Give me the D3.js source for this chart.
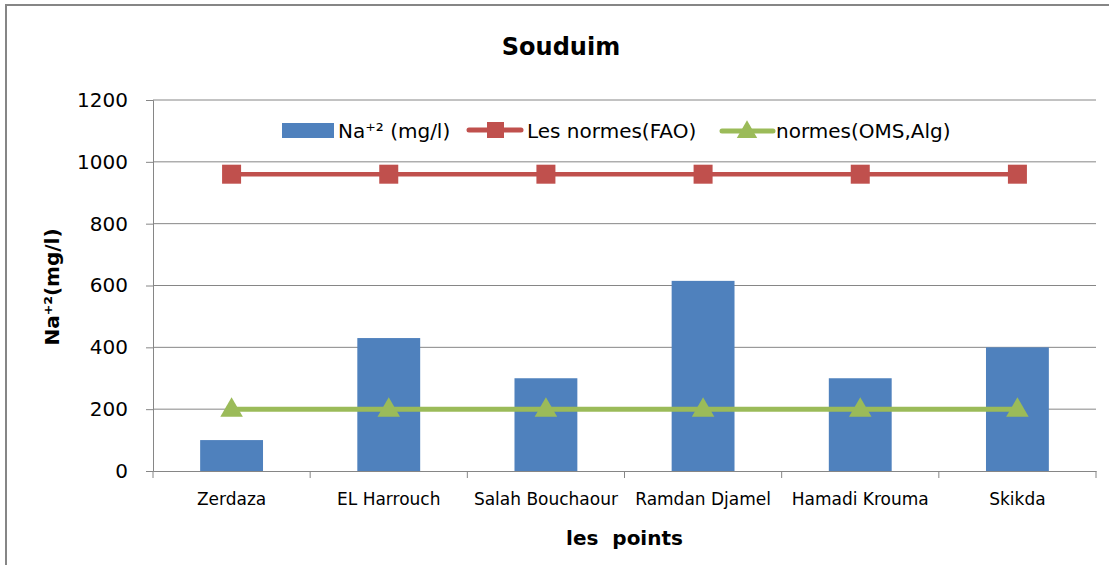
<!DOCTYPE html>
<html lang="en">
<head>
  <meta charset="UTF-8">
  <title>Souduim</title>
  <script src="https://d3js.org/d3.v7.min.js"></script>
</head>
<style>
  body{
    margin:0;
    background:white;
    font-family: "DejaVu Sans", Arial, sans-serif;
  }
</style>
<body>
  <div id="svg_area"></div>
</body>
<script>
// chart data
var points = ["Zerdaza", "EL Harrouch", "Salah Bouchaour", "Ramdan Djamel", "Hamadi Krouma", "Skikda"];
var sodium = [100, 430, 300, 615, 300, 400];
var normeFAO = [960, 960, 960, 960, 960, 960];
var normeOMS = [200, 200, 200, 200, 200, 200];
var yTicks = [0, 200, 400, 600, 800, 1000, 1200];

var width = 1109;
var height = 565;
// plot area edges
var plotLeft = 153, plotRight = 1096, plotTop = 100, plotBottom = 471;

var svg = d3.select("#svg_area").append("svg")
  .attr("width", width)
  .attr("height", height)
  .attr("font-family", "'DejaVu Sans', sans-serif");

// outer border (only top and left visible)
svg.append("path")
  .attr("d", "M6," + height + " V5 H" + width)
  .attr("fill", "none")
  .attr("stroke", "#868686")
  .attr("stroke-width", 2);

// scales
var yScale = d3.scaleLinear().domain([0, 1200]).range([plotBottom, plotTop]);
var xScale = d3.scaleBand().domain(points).range([plotLeft, plotRight]).paddingInner(0).paddingOuter(0);
var barWidth = xScale.bandwidth() / 2.5;

// gridlines
svg.append("g").selectAll("line")
  .data(yTicks.filter(function(d){ return d > 0; }))
  .enter().append("line")
    .attr("x1", plotLeft).attr("x2", plotRight)
    .attr("y1", function(d){ return yScale(d); })
    .attr("y2", function(d){ return yScale(d); })
    .attr("stroke", "#868686")
    .attr("stroke-width", 1);

// y axis
var yAxis = d3.axisLeft(yScale).tickValues(yTicks).tickSize(7).tickPadding(18).tickFormat(d3.format("d"));
var gy = svg.append("g")
  .attr("transform", "translate(" + plotLeft + ",0)")
  .call(yAxis);
gy.select(".domain").attr("stroke", "#868686");
gy.selectAll(".tick line").attr("stroke", "#868686");
gy.selectAll("text")
  .attr("font-family", "'DejaVu Sans', sans-serif")
  .attr("font-size", "20px")
  .attr("fill", "#000");

// bars
svg.append("g").selectAll("rect")
  .data(sodium)
  .enter().append("rect")
    .attr("x", function(d, i){ return xScale(points[i]) + (xScale.bandwidth() - barWidth) / 2; })
    .attr("y", function(d){ return yScale(d); })
    .attr("width", barWidth)
    .attr("height", function(d){ return plotBottom - yScale(d); })
    .attr("fill", "#4F81BD");

// x axis
var xAxis = d3.axisBottom(xScale).tickSize(0).tickPadding(22);
var gx = svg.append("g")
  .attr("transform", "translate(0," + plotBottom + ")")
  .call(xAxis);
gx.select(".domain").attr("stroke", "#868686");
gx.selectAll("text")
  .attr("font-family", "'DejaVu Sans', sans-serif")
  .attr("font-size", "17px")
  .attr("fill", "#000");
// tick marks between categories
gx.selectAll(".sep")
  .data(d3.range(points.length + 1))
  .enter().append("line")
    .attr("class", "sep")
    .attr("x1", function(i){ return plotLeft + i * xScale.step(); })
    .attr("x2", function(i){ return plotLeft + i * xScale.step(); })
    .attr("y1", 0).attr("y2", 7)
    .attr("stroke", "#868686");

function cx(i){ return xScale(points[i]) + xScale.bandwidth() / 2; }

var line = d3.line()
  .x(function(d, i){ return cx(i); })
  .y(function(d){ return yScale(d); });

// FAO line
svg.append("path")
  .datum(normeFAO)
  .attr("d", line)
  .attr("fill", "none")
  .attr("stroke", "#C0504D")
  .attr("stroke-width", 4.5);
svg.append("g").selectAll("rect")
  .data(normeFAO)
  .enter().append("rect")
    .attr("x", function(d, i){ return cx(i) - 9.5; })
    .attr("y", function(d){ return yScale(d) - 9.5; })
    .attr("width", 19).attr("height", 19)
    .attr("fill", "#C0504D");

// OMS line
svg.append("path")
  .datum(normeOMS)
  .attr("d", line)
  .attr("fill", "none")
  .attr("stroke", "#9BBB59")
  .attr("stroke-width", 5);
var tri = d3.symbol().type(d3.symbolTriangle).size(220);
svg.append("g").selectAll("path")
  .data(normeOMS)
  .enter().append("path")
    .attr("d", tri)
    .attr("transform", function(d, i){ return "translate(" + cx(i) + "," + (yScale(d) + 1) + ")"; })
    .attr("fill", "#9BBB59");

// title
svg.append("text")
  .attr("x", 561).attr("y", 55)
  .attr("text-anchor", "middle")
  .attr("font-size", "24px")
  .attr("font-weight", "bold")
  .text("Souduim");

// axis titles
svg.append("text")
  .attr("x", (plotLeft + plotRight) / 2).attr("y", 545)
  .attr("text-anchor", "middle")
  .attr("font-size", "20px")
  .attr("font-weight", "bold")
  .attr("xml:space", "preserve")
  .style("white-space", "pre")
  .text("les  points");

svg.append("text")
  .attr("transform", "translate(59,287) rotate(-90)")
  .attr("text-anchor", "middle")
  .attr("font-size", "20px")
  .attr("font-weight", "bold")
  .text("Na\u207A\u00B2(mg/l)");

// legend
var lg = svg.append("g").attr("font-size", "20px");
lg.append("rect")
  .attr("x", 282).attr("y", 123).attr("width", 52).attr("height", 15)
  .attr("fill", "#4F81BD");
lg.append("text").attr("x", 338).attr("y", 138).text("Na\u207A\u00B2 (mg/l)");

lg.append("line")
  .attr("x1", 469).attr("x2", 521).attr("y1", 130).attr("y2", 130)
  .attr("stroke", "#C0504D").attr("stroke-width", 5).attr("stroke-linecap", "round");
lg.append("rect")
  .attr("x", 487).attr("y", 122).attr("width", 17).attr("height", 16)
  .attr("fill", "#C0504D");
lg.append("text").attr("x", 527).attr("y", 138).text("Les normes(FAO)");

lg.append("line")
  .attr("x1", 722).attr("x2", 773).attr("y1", 131).attr("y2", 131)
  .attr("stroke", "#9BBB59").attr("stroke-width", 5).attr("stroke-linecap", "round");
lg.append("path")
  .attr("d", d3.symbol().type(d3.symbolTriangle).size(180))
  .attr("transform", "translate(747,132)")
  .attr("fill", "#9BBB59");
lg.append("text").attr("x", 776).attr("y", 138).text("normes(OMS,Alg)");
</script>
</html>
